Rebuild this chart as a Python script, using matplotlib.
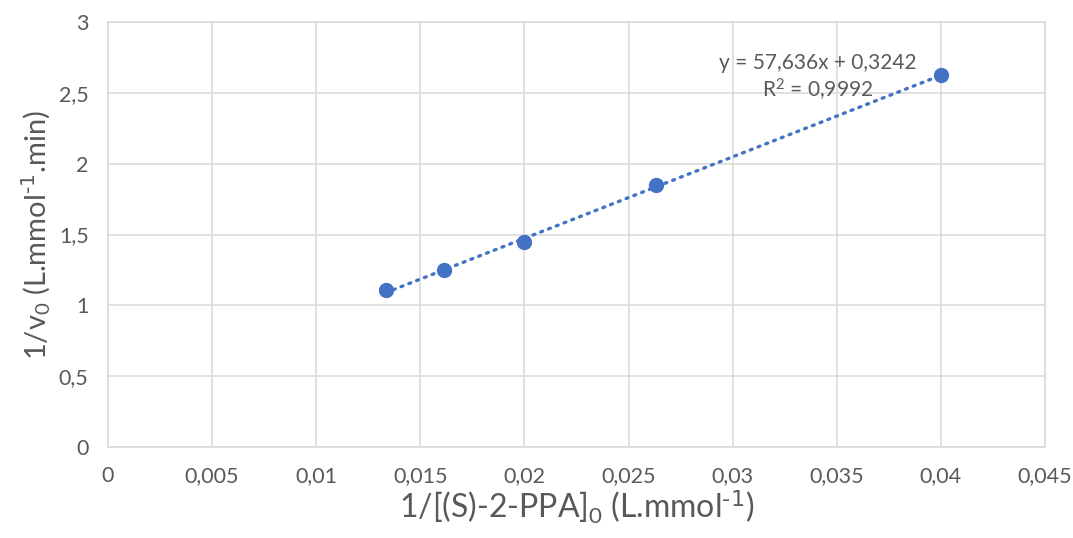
import numpy as np
import matplotlib
matplotlib.use("Agg")
import matplotlib.pyplot as plt

# 1/[S]0 and 1/v0
inv_s = [0.01333, 0.01613, 0.02, 0.02632, 0.04]
inv_v = [1.105, 1.247, 1.448, 1.847, 2.625]

x_ticks = [0, 0.005, 0.01, 0.015, 0.02, 0.025, 0.03, 0.035, 0.04, 0.045]
x_tick_labels = ['0', '0,005', '0,01', '0,015', '0,02', '0,025', '0,03', '0,035', '0,04', '0,045']
y_ticks = [0, 0.5, 1, 1.5, 2, 2.5, 3]
y_tick_labels = ['0', '0,5', '1', '1,5', '2', '2,5', '3']

eq_text = 'y = 57,636x + 0,3242'
r2_text = 'R$^2$ = 0,9992'

plt.rcParams['font.family'] = ['Lato', 'DejaVu Sans']
plt.rcParams['mathtext.default'] = 'regular'

gray = '#595959'
grid_col = '#D9D9D9'
blue = '#4472C4'

fig = plt.figure(figsize=(10.73, 5.38), dpi=100)
ax = fig.add_axes([108 / 1073, 91 / 538, 937 / 1073, 425 / 538])

# trendline (linear fit of the points)
slope, icpt = np.polyfit(inv_s, inv_v, 1)
xs = np.array([min(inv_s), max(inv_s)])
ax.plot(xs, slope * xs + icpt, color=blue, lw=2.4, linestyle=(0, (0.6, 1.9)),
        dash_capstyle='round', zorder=3)
ax.plot(inv_s, inv_v, 'o', color=blue, markersize=10, zorder=4)

ax.set_xlim(0, 0.045)
ax.set_ylim(0, 3)
ax.set_xticks(x_ticks)
ax.set_xticklabels(x_tick_labels)
ax.set_yticks(y_ticks)
ax.set_yticklabels(y_tick_labels)
ax.tick_params(length=0, labelsize=15.5, labelcolor=gray, pad=14)
ax.grid(True, color=grid_col, lw=1.1)
ax.set_axisbelow(True)
for s in ax.spines.values():
    s.set_color(grid_col)
    s.set_linewidth(1.1)

ax.set_xlabel(r'1/[(S)-2-PPA]$_0$ (L.mmol$^{\text{-1}}$)', fontsize=23, color=gray, labelpad=2)
ax.set_ylabel(r'1/v$_0$ (L.mmol$^{\text{-1}}$.min)', fontsize=21, color=gray, labelpad=4)

ax.text(0.0341, 2.71, eq_text, fontsize=15, color=gray, ha='center', va='center')
ax.text(0.0341, 2.52, r2_text, fontsize=15, color=gray, ha='center', va='center')

fig.savefig('out.png', dpi=100)
